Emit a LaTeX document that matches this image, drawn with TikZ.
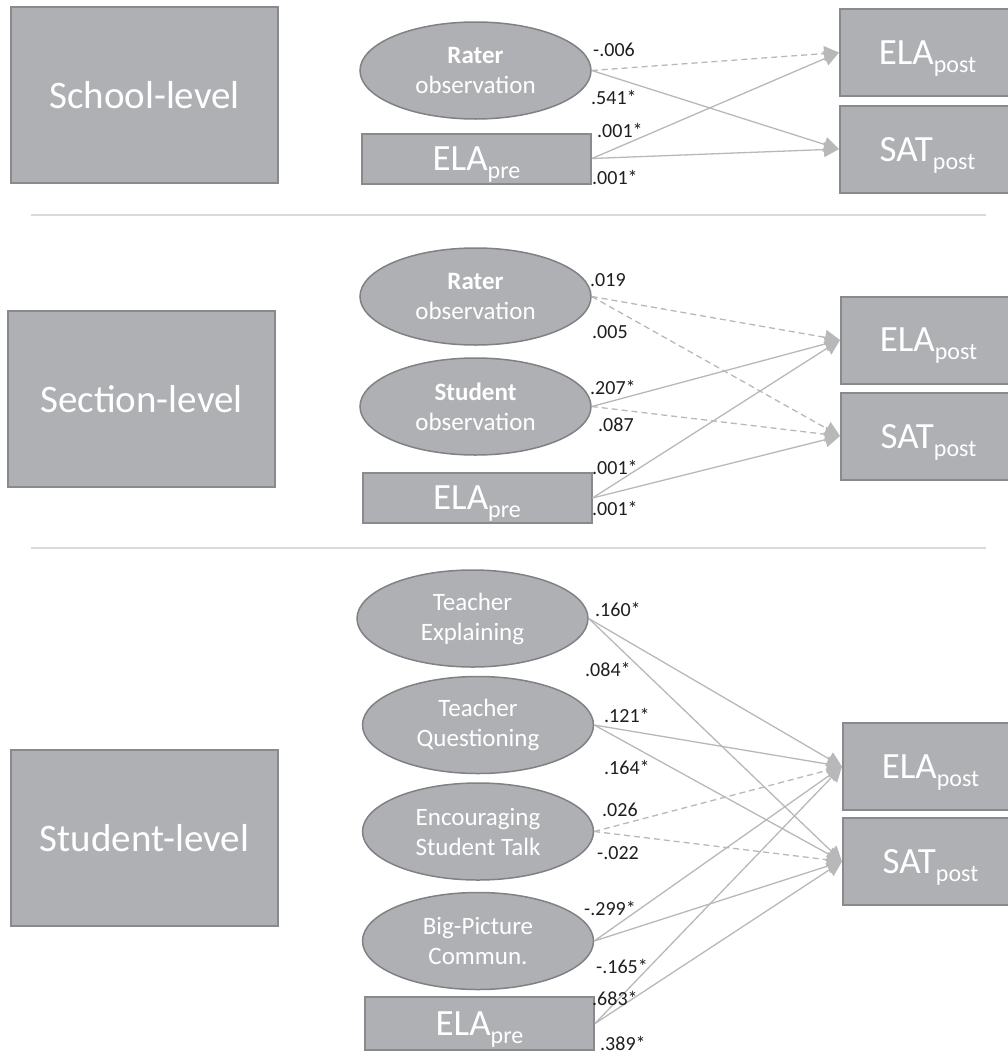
\documentclass[tikz,border=0pt]{standalone}
\usepackage{fontspec}
\setmainfont{Carlito}
\usepackage{tikz}
\usetikzlibrary{arrows.meta, shapes.geometric}

\definecolor{boxgray}{RGB}{175,176,179}
\definecolor{boxline}{RGB}{137,138,141}
\definecolor{ellline}{RGB}{128,129,132}
\definecolor{linkgray}{RGB}{184,184,186}
\definecolor{rulegray}{RGB}{217,217,217}
\definecolor{coefblack}{RGB}{30,30,30}

\newcommand{\lowidx}[1]{\raisebox{-8pt}{\fontsize{24}{24}\selectfont #1}}

\tikzset{
  levelbox/.style={draw=boxline, line width=2pt, fill=boxgray, text=white,
    minimum width=267pt, minimum height=176pt, inner sep=0pt,
    font=\fontsize{39}{47}\selectfont},
  factor/.style={ellipse, draw=ellline, line width=1.5pt, fill=boxgray, text=white,
    minimum width=231pt, minimum height=97pt, inner sep=0pt, align=center,
    font=\fontsize{25}{30}\selectfont},
  measure/.style={rectangle, draw=boxline, line width=2pt, fill=boxgray, text=white,
    inner sep=0pt, text depth=0pt, font=\fontsize{37}{40}\selectfont},
  prebox/.style={measure, minimum width=229pt, minimum height=50pt},
  outcome/.style={measure, anchor=west, minimum width=175pt, minimum height=87pt},
  link/.style={draw=linkgray, line width=1.3pt, -{Triangle[length=15pt,width=15pt]}},
  weak/.style={link, dash pattern=on 6pt off 4pt},
  coef/.style={anchor=west, inner sep=0pt, text=coefblack, font=\fontsize{20}{24}\selectfont}
}

\begin{document}
\begin{tikzpicture}[x=1pt, y=-1pt]
\useasboundingbox (0,0) rectangle (1008,1055);

% --- Separators ---
\draw[rulegray, line width=2pt] (31,215) -- (986,215);
\draw[rulegray, line width=2pt] (31,548) -- (986,548);

% --- School level ---
\node[levelbox] (school) at (144.5,95) {School-level};
\node[factor] (srater) at (475.5,70.5) {{\bfseries Rater}\\observation};
\node[prebox] (spre) at (476.5,158.5) {ELA\lowidx{pre}};
\node[outcome] (sela) at (839,52.5) {ELA\lowidx{post}};
\node[outcome] (ssat) at (839,149) {SAT\lowidx{post}};

\draw[weak] (srater.east) -- (sela.west);
\draw[link] (srater.east) -- (ssat.west);
\draw[link] (spre.east) -- (sela.west);
\draw[link] (spre.east) -- (ssat.west);

\foreach \x/\y/\val [count=\i] in {593/50/{-.006}, 591/97/{.541*}, 597/130/{.001*}, 592/177/{.001*}}
  \node[coef] (sc\i) at (\x,\y) {\val};

% --- Section level ---
\node[levelbox] (section) at (141.5,399) {Section-level};
\node[factor] (crater) at (475.5,296.5) {{\bfseries Rater}\\observation};
\node[factor] (cstud) at (475.5,406.5) {{\bfseries Student}\\observation};
\node[prebox] (cpre) at (477,498) {ELA\lowidx{pre}};
\node[outcome] (cela) at (840,340) {ELA\lowidx{post}};
\node[outcome] (csat) at (840,436) {SAT\lowidx{post}};

\draw[weak] (crater.east) -- (cela.west);
\draw[weak] (crater.east) -- (csat.west);
\draw[link] (cstud.east) -- (cela.west);
\draw[weak] (cstud.east) -- (csat.west);
\draw[link] (cpre.east) -- (cela.west);
\draw[link] (cpre.east) -- (csat.west);

\foreach \x/\y/\val [count=\i] in {590/280/{.019}, 592/332/{.005}, 590/387/{.207*},
    598/425/{.087}, 592/467/{.001*}, 592/508/{.001*}}
  \node[coef] (cc\i) at (\x,\y) {\val};

% --- Student level ---
\node[levelbox] (student) at (144.5,838) {Student-level};
\node[factor] (texp) at (472.5,618.5) {Teacher\\Explaining};
\node[factor] (tques) at (478,725) {Teacher\\Questioning};
\node[factor] (talk) at (478,831.5) {Encouraging\\Student Talk};
\node[factor] (bigpic) at (478,941) {Big-Picture\\Commun.};
\node[prebox, minimum height=53pt] (tpre) at (479.5,1023.5) {ELA\lowidx{pre}};
\node[outcome] (tela) at (842,766.5) {ELA\lowidx{post}};
\node[outcome] (tsat) at (842,861.5) {SAT\lowidx{post}};

\draw[link] (texp.east) -- (tela.west);
\draw[link] (texp.east) -- (tsat.west);
\draw[link] (tques.east) -- (tela.west);
\draw[link] (tques.east) -- (tsat.west);
\draw[weak] (talk.east) -- (tela.west);
\draw[weak] (talk.east) -- (tsat.west);
\draw[link] (bigpic.east) -- (tela.west);
\draw[link] (bigpic.east) -- (tsat.west);
\draw[link] (tpre.east) -- (tela.west);
\draw[link] (tpre.east) -- (tsat.west);

\foreach \x/\y/\val [count=\i] in {595/609/{.160*}, 585/669/{.084*}, 604/715/{.121*},
    604/767/{.164*}, 602/810/{.026}, 597/853/{-.022}, 584/908/{-.299*},
    596/966/{-.165*}, 592/998/{.683*}, 600/1043/{.389*}}
  \node[coef] (tc\i) at (\x,\y) {\val};

\end{tikzpicture}
\end{document}
